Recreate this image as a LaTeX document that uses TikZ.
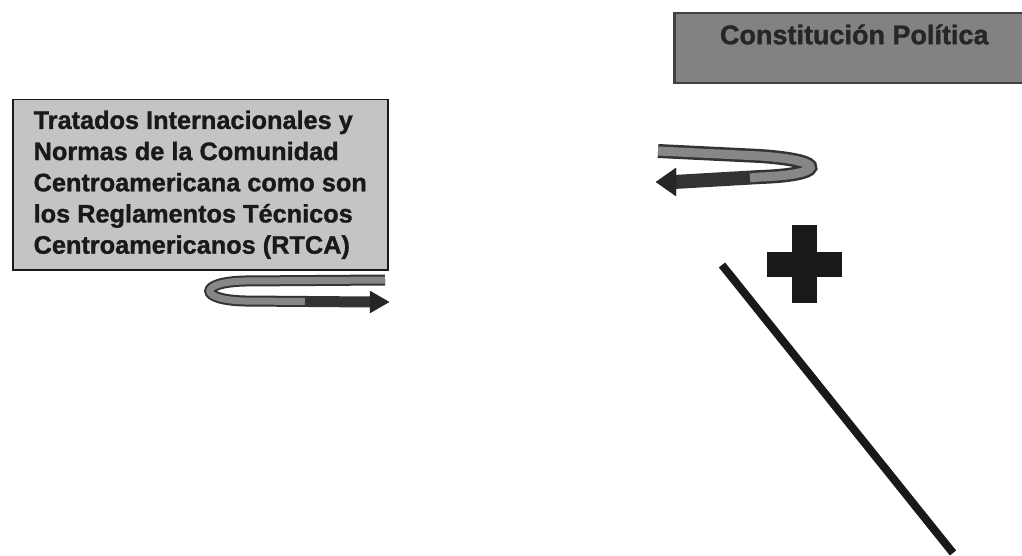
\documentclass[tikz,border=0pt]{standalone}
\usepackage{fontspec}
\setmainfont{Liberation Sans}
\newfontfamily\heavysans{Liberation Sans Bold}[FakeBold=1.2]
\usetikzlibrary{positioning}
\definecolor{boxgray}{RGB}{196,196,196}
\definecolor{constgray}{RGB}{130,130,130}
\definecolor{ribbongray}{RGB}{135,135,135}
\definecolor{inkgray}{RGB}{25,25,25}
\tikzset{
  tratadosbox/.style={
    draw=inkgray,
    line width=1.5pt,
    fill=boxgray,
    anchor=north west,
    minimum width=375pt,
    minimum height=170pt,
    inner xsep=18pt,
    align=left,
    font=\fontsize{25.3}{31.2}\selectfont\heavysans\color{inkgray}
  },
  constbox/.style={
    draw=black!75,
    line width=2.5pt,
    fill=constgray,
    anchor=north west,
    minimum width=350pt,
    inner ysep=6pt,
    text height=25pt,
    text depth=33pt,
    font=\fontsize{27}{30}\selectfont\heavysans\color{black!85}
  },
  ribbon/.style={line width=11pt, draw=black!80},
  ribboncore/.style={line width=7pt, draw=ribbongray},
  tipfill/.style={fill=black!85, draw=black!85}
}

\begin{document}
\begin{tikzpicture}[x=1pt, y=-1pt]
  \useasboundingbox (0,0) rectangle (1022,556);

  % boxes
  \node[tratadosbox] (tratados) at (12,99)
    {Tratados Internacionales y\\Normas de la Comunidad\\Centroamericana como son\\los Reglamentos T\'ecnicos\\Centroamericanos (RTCA)};
  \node[constbox] (constitucion) at (673,12) {\hspace*{10pt}Constituci\'on Pol\'itica};

  % ribbon arrow under the left box
  \coordinate (la) at (385,280);
  \coordinate (lb) at (371,302);
  \draw[ribbon] (la) -- (245,281) .. controls (198,282) and (198,300) .. (245,301) -- (lb);
  \draw[ribboncore] (la) -- (245,281) .. controls (198,282) and (198,300) .. (245,301) -- (305,301.5);
  \draw[ribbon, line width=9pt] (305,301.5) -- (lb);
  \fill[tipfill] (370,291) -- (389,302) -- (370,313) -- cycle;

  % ribbon arrow under the right box
  \coordinate (ra) at (658,151);
  \coordinate (rb) at (674,182);
  \draw[ribbon, line width=14pt] (ra) -- (760,156) .. controls (832,161) and (822,175) .. (760,177) -- (rb);
  \draw[ribboncore, line width=9pt] (ra) -- (760,156) .. controls (832,161) and (822,175) .. (760,177) -- (750,178);
  \fill[tipfill] (676,168) -- (656,182) -- (676,196) -- cycle;

  % plus sign
  \coordinate (plusc) at (804.5,264);
  \fill[black!90] ([xshift=-12.5pt, yshift=39pt]plusc) rectangle ([xshift=12.5pt, yshift=-39pt]plusc);
  \fill[black!90] ([xshift=-37.5pt, yshift=12.5pt]plusc) rectangle ([xshift=37.5pt, yshift=-12.5pt]plusc);

  % diagonal stroke
  \coordinate (da) at (722,265);
  \coordinate (db) at (953,553);
  \draw[line width=8pt, black!90] (da) -- (db);
\end{tikzpicture}
\end{document}
